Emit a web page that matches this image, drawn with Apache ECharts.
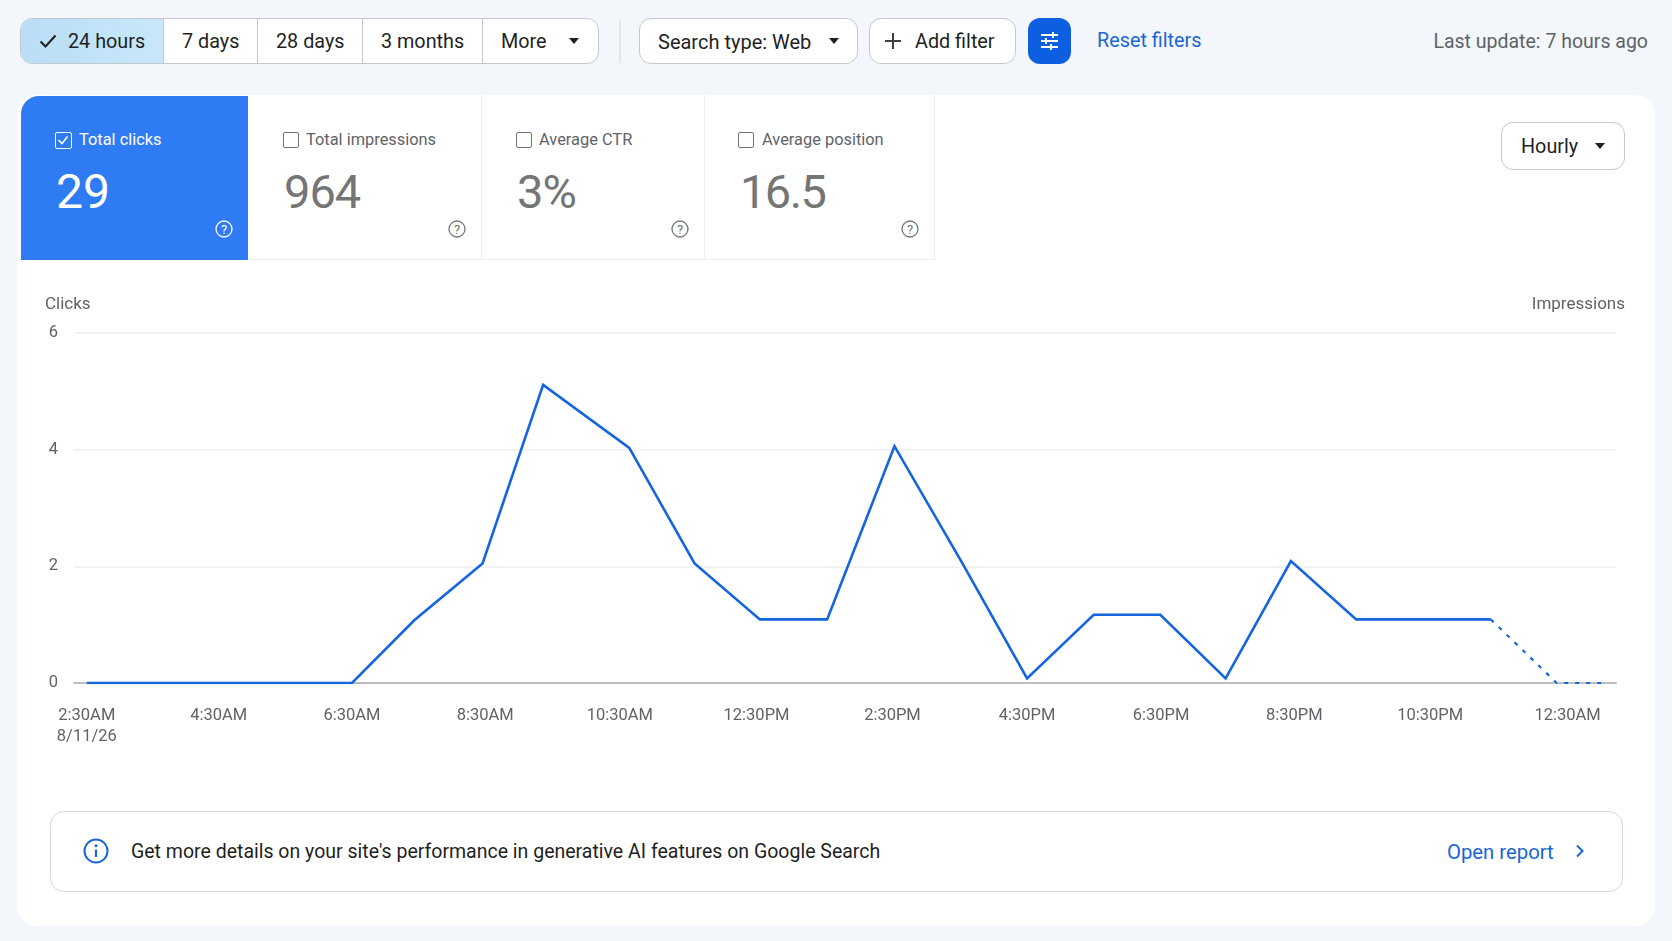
<!DOCTYPE html>
<html>
<head>
<meta charset="utf-8">
<script src="https://cdn.jsdelivr.net/npm/echarts@6/dist/echarts.min.js"></script>
<style>
  html, body { margin: 0; padding: 0; }
  body { width: 1672px; height: 941px; position: relative; overflow: hidden; background: #f3f7fc;
         font-family: Roboto, sans-serif; color: #1f1f1f; }
  .abs { position: absolute; box-sizing: border-box; }
  .btn { position: absolute; box-sizing: border-box; height: 46px; top: 18px; background: #fff; border: 1.5px solid #c4c7cc;
         border-radius: 12px; font-size: 19.8px; line-height: 46px; white-space: nowrap; }
  .seg { position: absolute; top: 0; height: 100%; box-sizing: border-box; border-right: 1.5px solid #c4c7cc; line-height: 46px; }
  .caret { position: absolute; width: 0; height: 0; border-left: 5.5px solid transparent; border-right: 5.5px solid transparent;
           border-top: 6px solid #1f1f1f; }
  .link { color: #1a66d6; }
  .metric { position: absolute; top: 95px; height: 165px; box-sizing: border-box; border-right: 1.5px solid #eceef0; border-bottom: 1.5px solid #eceef0; color: #757575; }
  .metric .lbl { position: absolute; top: 35px; font-size: 16.4px; line-height: 20px; color: #5f6368; white-space: nowrap; }
  .metric .num { position: absolute; top: 67px; font-size: 47px; line-height: 60px; white-space: nowrap; letter-spacing: -1px; }
  .metric .cb { position: absolute; top: 37px; width: 16px; height: 16px; box-sizing: border-box; border: 1.6px solid #757575; border-radius: 2px; }
  .metric svg { position: absolute; }
  #chart { position: absolute; left: 0; top: 280px; width: 1672px; height: 480px; }
</style>
</head>
<body>
<div class="abs" style="left:17px;top:95px;width:1638px;height:831px;background:#fff;border-radius:20px;"></div>

<!-- toolbar -->
<div class="btn" style="left:20px;width:579px;">
  <div class="seg" style="left:0;width:143px;background:linear-gradient(90deg,#b9def6,#c9e7fa);border-radius:11px 0 0 11px;">
    <svg class="abs" style="left:18px;top:14px" width="18" height="16" viewBox="0 0 18 16"><path d="M1.5 8.5 L6.5 13.5 L16.5 2.5" fill="none" stroke="#1f1f1f" stroke-width="2"/></svg>
    <span class="abs" style="left:47px;">24 hours</span>
  </div>
  <div class="seg" style="left:143px;width:94px;padding-left:18px;">7 days</div>
  <div class="seg" style="left:237px;width:105px;padding-left:18px;">28 days</div>
  <div class="seg" style="left:342px;width:120px;padding-left:18px;">3 months</div>
  <div class="seg" style="left:462px;border-right:none;padding-left:18px;">More</div>
  <div class="caret" style="left:548px;top:19px;"></div>
</div>
<div class="abs" style="left:619px;top:20px;width:1.5px;height:43px;background:#e3e6ea;"></div>
<div class="btn" style="left:639px;width:219px;padding-left:18px;font-size:20px;">Search type: Web<div class="caret" style="left:189px;top:19px;"></div></div>
<div class="btn" style="left:869px;width:147px;padding-left:45px;">Add filter
  <svg class="abs" style="left:14px;top:13px" width="18" height="18" viewBox="0 0 18 18"><path d="M9 1 V17 M1 9 H17" stroke="#3c4043" stroke-width="2"/></svg>
</div>
<div class="abs" style="left:1028px;top:18px;width:43px;height:46px;background:#0b5fe0;border-radius:12px;">
  <svg class="abs" style="left:12px;top:13px" width="19" height="20" viewBox="0 0 19 20">
    <path d="M1 4 H18 M1 10 H18 M1 16 H18" stroke="#fff" stroke-width="2"/>
    <path d="M13 1 V7 M6 7 V13 M11 13 V19" stroke="#fff" stroke-width="2"/>
  </svg>
</div>
<div class="abs link" style="left:1097px;top:26px;font-size:19.8px;line-height:30px;white-space:nowrap;">Reset filters</div>
<div class="abs" style="right:24px;top:27px;font-size:19.5px;line-height:30px;color:#5f6368;white-space:nowrap;">Last update: 7 hours ago</div>

<!-- metric cards -->
<div class="metric" style="left:21px;top:96px;height:164px;width:227px;background:#2f7bf3;border:none;border-top-left-radius:18px;color:#fff;">
  <div class="cb" style="left:34px;top:36px;width:17px;height:17px;border-color:#fff;"><svg style="left:1px;top:1px" width="12" height="12" viewBox="0 0 12 12"><path d="M1.5 6 L5 9.5 L10.5 2.5" fill="none" stroke="#fff" stroke-width="1.6"/></svg></div>
  <div class="lbl" style="left:58px;top:34px;color:#fff;">Total clicks</div>
  <div class="num" style="left:35px;top:66px;letter-spacing:0;font-size:48px;">29</div>
  <svg style="left:194px;top:124px" width="18" height="18" viewBox="0 0 18 18"><circle cx="9" cy="9" r="8" fill="none" stroke="#fff" stroke-width="1.3"/><text x="9" y="13.5" font-size="13" text-anchor="middle" fill="#fff" font-family="Roboto">?</text></svg>
</div>
<div class="metric" style="left:248px;width:234px;">
  <div class="cb" style="left:35px;"></div><div class="lbl" style="left:58px;">Total impressions</div>
  <div class="num" style="left:36px;">964</div>
  <svg style="left:200px;top:125px" width="18" height="18" viewBox="0 0 18 18"><circle cx="9" cy="9" r="8" fill="none" stroke="#757575" stroke-width="1.3"/><text x="9" y="13.5" font-size="13" text-anchor="middle" fill="#757575" font-family="Roboto">?</text></svg>
</div>
<div class="metric" style="left:482px;width:223px;">
  <div class="cb" style="left:34px;"></div><div class="lbl" style="left:57px;">Average CTR</div>
  <div class="num" style="left:35px;">3%</div>
  <svg style="left:189px;top:125px" width="18" height="18" viewBox="0 0 18 18"><circle cx="9" cy="9" r="8" fill="none" stroke="#757575" stroke-width="1.3"/><text x="9" y="13.5" font-size="13" text-anchor="middle" fill="#757575" font-family="Roboto">?</text></svg>
</div>
<div class="metric" style="left:705px;width:230px;">
  <div class="cb" style="left:33px;"></div><div class="lbl" style="left:57px;">Average position</div>
  <div class="num" style="left:35px;letter-spacing:-1.6px;">16.5</div>
  <svg style="left:196px;top:125px" width="18" height="18" viewBox="0 0 18 18"><circle cx="9" cy="9" r="8" fill="none" stroke="#757575" stroke-width="1.3"/><text x="9" y="13.5" font-size="13" text-anchor="middle" fill="#757575" font-family="Roboto">?</text></svg>
</div>
<div class="btn" style="left:1501px;top:122px;width:124px;height:48px;padding-left:19px;line-height:48px;">Hourly<div class="caret" style="left:93px;top:20px;"></div></div>

<div id="chart"></div>

<!-- notice -->
<div class="abs" style="left:50px;top:811px;width:1573px;height:81px;background:#fff;border:1.5px solid #d5d8de;border-radius:14px;"></div>
<svg class="abs" style="left:83px;top:838px" width="26" height="26" viewBox="0 0 26 26"><circle cx="13" cy="13" r="11.5" fill="none" stroke="#1a66d6" stroke-width="2"/><path d="M13 11.5 V19" stroke="#1a66d6" stroke-width="2.2"/><circle cx="13" cy="7.8" r="1.5" fill="#1a66d6"/></svg>
<div class="abs" style="left:131px;top:837px;font-size:19.5px;line-height:30px;white-space:nowrap;">Get more details on your site's performance in generative AI features on Google Search</div>
<div class="abs link" style="left:1447px;top:837px;font-size:20.3px;line-height:30px;white-space:nowrap;">Open report</div>
<svg class="abs" style="left:1575px;top:844px" width="10" height="14" viewBox="0 0 10 14"><path d="M2 1.5 L7.5 7 L2 12.5" fill="none" stroke="#1a66d6" stroke-width="2"/></svg>

<script>
// Hours are counted from midnight of 8/11/26
const solidHours = [2.5, 6.44, 7.37, 8.38, 9.28, 10.56, 11.53, 12.5, 13.5, 14.5, 15.51, 16.47, 17.46, 18.45, 19.42, 20.39, 21.36, 22.35, 23.36];
const solidClicks = [0, 0, 1.08, 2.05, 5.11, 4.03, 2.05, 1.09, 1.09, 4.06, 2.05, 0.08, 1.17, 1.17, 0.08, 2.09, 1.09, 1.09, 1.09];
const dashedHours = [23.36, 24.34, 25.03];
const dashedClicks = [1.09, 0, 0];
// tick labels sit a little off the nominal half hour in the picture
const tickHours = [2.5, 4.46, 6.44, 8.42, 10.42, 12.45, 14.47, 16.47, 18.46, 20.44, 22.46, 24.5];
const tickLabels = ["2:30AM\n8/11/26", "4:30AM", "6:30AM", "8:30AM", "10:30AM", "12:30PM", "2:30PM", "4:30PM", "6:30PM", "8:30PM", "10:30PM", "12:30AM"];

const toPairs = (xs, ys) => xs.map((x, i) => [x, ys[i]]);
const labelFont = { fontFamily: "Roboto", fontSize: 16.5, color: "#5f6368" };

const chart = echarts.init(document.getElementById("chart"), null, { renderer: "canvas" });
chart.setOption({
  animation: false,
  backgroundColor: "transparent",
  title: [
    { text: "Clicks", left: 40, top: 11, textStyle: { ...labelFont, fontWeight: "normal", fontSize: 17 } },
    { text: "Impressions", right: 42, top: 11, textStyle: { ...labelFont, fontWeight: "normal", fontSize: 17 } },
  ],
  grid: { left: 74, right: 56, top: 53, bottom: 77 },
  xAxis: {
    type: "value",
    min: 2.31,
    max: 25.22,
    splitLine: { show: false },
    axisTick: { show: false },
    axisLine: { show: true, lineStyle: { color: "#bdbdbd", width: 2 } },
    axisLabel: {
      ...labelFont,
      lineHeight: 21.5,
      margin: 22,
      customValues: tickHours,
      formatter: (value) => tickLabels[tickHours.indexOf(value)],
    },
  },
  yAxis: {
    type: "value",
    min: 0,
    max: 6,
    interval: 2,
    axisLine: { show: false },
    axisTick: { show: false },
    splitLine: { lineStyle: { color: "#eceef0", width: 1.5 } },
    axisLabel: { ...labelFont, margin: 16 },
  },
  series: [
    {
      type: "line",
      data: toPairs(solidHours, solidClicks),
      showSymbol: false,
      lineStyle: { color: "#1565df", width: 2.6, join: "miter" },
      z: 3,
    },
    {
      type: "line",
      data: toPairs(dashedHours, dashedClicks),
      showSymbol: false,
      lineStyle: { color: "#1565df", width: 2.2, type: [4, 7] },
      z: 3,
    },
  ],
});
</script>
</body>
</html>
